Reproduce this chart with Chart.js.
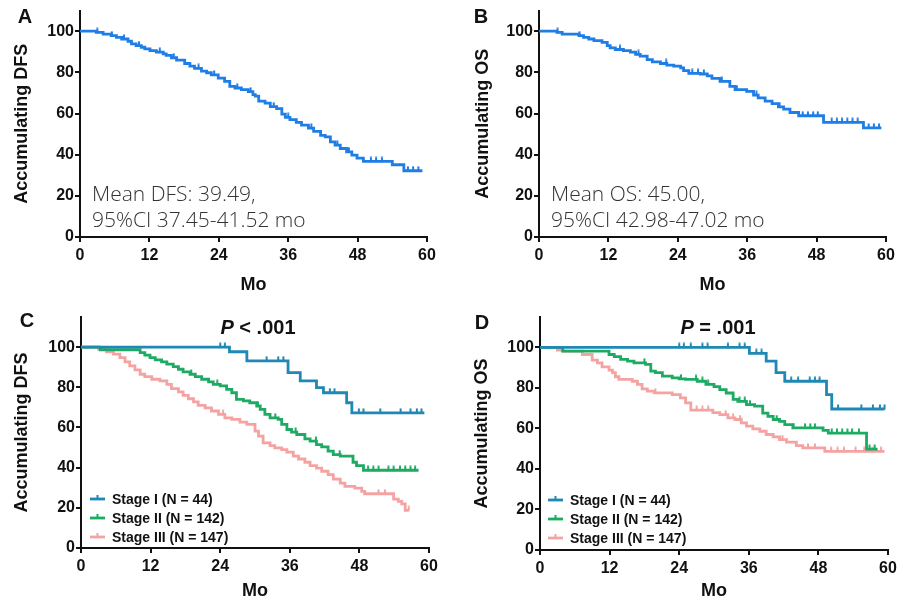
<!DOCTYPE html>
<html>
<head>
<meta charset="utf-8">
<script src="https://cdn.jsdelivr.net/npm/chart.js@4/dist/chart.umd.min.js"></script>
<style>
  body { margin: 0; background: #fff; }
  #wrap { position: relative; width: 909px; height: 606px; background: #fff; font-family: "Liberation Sans", Arial, sans-serif; }
  canvas { position: absolute; }
  .lbl { position: absolute; transform: translate(-50%, -50%); font-weight: bold; color: #111; white-space: nowrap; }
  .panel { font-size: 20px; }
  .pval { font-size: 20px; }
  .mean { position: absolute; font-family: "Open Sans", sans-serif; font-weight: 300; font-size: 21px; line-height: 26px; color: #333; white-space: nowrap; }
</style>
</head>
<body>
<div id="wrap">
  <canvas id="chartA" width="450" height="300" style="left:0;top:0"></canvas>
  <canvas id="chartB" width="454" height="300" style="left:455px;top:0"></canvas>
  <canvas id="chartC" width="450" height="306" style="left:0;top:300px"></canvas>
  <canvas id="chartD" width="454" height="306" style="left:455px;top:300px"></canvas>

  <div class="lbl panel" style="left:25px;top:16px">A</div>
  <div class="lbl panel" style="left:481px;top:16px">B</div>
  <div class="lbl panel" style="left:27px;top:320px">C</div>
  <div class="lbl panel" style="left:482px;top:322px">D</div>

  <div class="lbl pval" style="left:258px;top:327px"><i>P</i> &lt; .001</div>
  <div class="lbl pval" style="left:718px;top:327px"><i>P</i> = .001</div>

  <div class="mean" style="left:92px;top:180px">Mean DFS: 39.49,<br>95%CI 37.45-41.52 mo</div>
  <div class="mean" style="left:551px;top:180px">Mean OS: 45.00,<br>95%CI 42.98-47.02 mo</div>
</div>
<script>
// [month, survival %] step points
const dfsAll = [[0,100],[2.8,99.4],[4.0,98.6],[5.4,97.8],[6.3,97.0],[7.2,96.2],[8.3,95.1],[8.9,93.8],[9.7,93.0],[10.6,92.2],
  [11.2,91.4],[12.1,90.6],[13.2,89.8],[14.4,89.0],[14.9,88.2],[15.8,87.1],[16.7,85.9],[18.1,84.3],[19.0,83.0],[19.8,81.9],
  [21.0,80.6],[21.9,79.8],[22.7,78.8],[23.9,77.2],[25.0,75.6],[25.9,73.2],[26.8,72.4],[27.9,71.6],[29.1,70.6],[29.9,69.2],
  [30.3,68.4],[30.9,66.0],[32.0,65.0],[32.9,63.3],[34.0,62.4],[34.9,59.7],[35.5,58.1],[36.3,57.0],[37.4,55.7],[38.3,54.4],
  [39.5,52.9],[40.4,51.3],[41.6,49.4],[42.4,48.6],[43.3,46.2],[44.1,44.6],[45.0,43.0],[46.1,41.4],[47.0,39.8],[47.9,38.3],
  [49.0,36.7],[54.0,35.1],[56.0,32.2],[59.2,32.2]];
const dfsAllCens = [3.0,5.5,7.6,10.2,13.8,16.2,20.5,23.2,27.2,29.5,33.5,36.0,40.0,44.5,46.5,50.3,51.2,52.2,56.7,57.6,58.5];

const osAll = [[0,100],[3.1,99.4],[4.0,98.6],[6.9,97.8],[7.7,97.0],[8.6,96.2],[9.5,95.4],[10.9,94.6],[11.8,93.0],[12.3,91.9],
  [13.2,91.1],[14.6,90.6],[15.8,89.8],[16.7,88.7],[17.5,87.9],[18.7,86.2],[19.6,85.1],[21.0,84.3],[22.1,83.5],[23.3,83.0],
  [24.5,82.2],[25.0,80.8],[25.9,79.5],[27.9,79.2],[29.1,78.3],[29.9,77.1],[31.3,75.6],[33.0,73.2],[33.9,71.6],[35.9,70.8],
  [37.1,68.9],[37.9,67.6],[39.1,66.0],[40.3,64.8],[41.4,63.2],[42.3,62.1],[43.4,60.5],[44.9,58.9],[49.2,55.7],[56.1,53.0],
  [59.2,53.0]];
const osAllCens = [3.2,7.0,14.0,17.2,22.0,26.5,27.5,28.5,31.6,34.2,37.6,41.6,45.6,46.5,47.4,48.2,50.6,51.5,52.4,53.3,54.2,55.1,57.0,57.9,58.8];

const dfsStage1 = [[0,100],[25.6,97.7],[28.6,93.2],[35.7,87.3],[37.8,83.2],[40.6,79.8],[41.8,77.3],[45.8,72.3],[46.7,67.3],[59.2,67.3]];
const dfsStage1Cens = [24.0,24.8,32.0,34.0,34.9,42.9,43.7,47.9,48.7,51.6,55.1,56.8,57.9,58.7];
const dfsStage2 = [[0,100],[3.3,98.7],[10.2,97.3],[11.0,96.0],[11.9,94.8],[12.8,93.7],[13.9,92.7],[14.8,91.5],[15.9,90.3],[16.8,89.0],
  [17.6,87.7],[18.8,86.5],[19.7,85.3],[20.8,84.0],[22.0,82.7],[22.8,81.5],[24.0,80.7],[25.1,79.0],[26.0,77.3],[26.8,74.0],
  [28.0,73.2],[29.1,72.3],[30.3,70.7],[30.9,69.0],[31.7,66.5],[32.6,64.8],[34.0,64.0],[34.6,61.5],[35.5,59.0],[36.3,57.7],
  [37.2,56.5],[38.6,54.3],[39.5,53.2],[40.6,51.5],[41.5,50.3],[42.6,48.2],[43.5,46.5],[44.7,45.7],[46.9,42.7],[47.5,41.0],
  [48.7,38.7],[58.2,38.7]];
const dfsStage2Cens = [19.0,23.5,30.5,33.5,37.0,40.5,44.6,49.5,50.4,51.3,53.0,53.9,55.0,55.9,56.8,57.6];
const dfsStage3 = [[0,100],[3.0,99.0],[4.4,97.7],[5.6,96.5],[6.7,94.8],[7.6,92.7],[8.4,90.7],[9.3,88.7],[10.2,86.5],[11.0,85.3],
  [12.2,84.0],[13.6,83.2],[14.8,81.5],[15.6,79.3],[16.8,77.7],[17.6,76.0],[18.5,74.3],[19.4,72.7],[20.2,71.0],[21.4,69.8],
  [22.5,68.2],[23.7,66.5],[24.8,64.8],[26.0,64.0],[27.4,62.7],[28.6,61.5],[30.0,58.2],[30.6,55.7],[31.4,52.3],[32.6,51.0],
  [33.4,49.8],[34.6,49.0],[35.5,47.7],[36.6,45.7],[37.5,44.3],[38.6,42.7],[39.5,41.0],[40.6,39.8],[41.5,38.2],[42.6,36.5],
  [43.5,34.3],[44.7,32.3],[45.5,30.7],[47.2,29.8],[48.4,28.2],[48.9,27.0],[53.9,24.3],[54.7,23.2],[55.3,22.0],[55.9,18.7],
  [56.5,18.7]];
const dfsStage3Cens = [24.5,51.3,52.4,56.5];

const osStage1 = [[0,100],[36.1,97.0],[39.0,93.2],[40.7,87.5],[42.2,83.3],[49.4,76.7],[50.3,69.6],[59.4,69.6]];
const osStage1Cens = [24.0,24.8,26.0,28.0,28.9,32.4,34.4,35.3,37.3,38.2,43.3,44.5,46.5,47.4,48.2,51.4,55.4,57.4,58.6,59.4];
const osStage2 = [[0,100],[3.9,98.2],[11.9,96.5],[12.8,95.4],[13.9,94.1],[15.1,93.2],[16.2,92.4],[18.2,91.6],[19.1,88.3],[19.9,87.5],
  [21.1,85.8],[22.8,85.0],[24.0,84.5],[25.1,84.2],[27.1,83.3],[28.6,81.7],[30.0,80.6],[31.0,79.2],[32.1,77.5],[33.3,74.3],
  [34.1,73.4],[35.6,71.8],[37.0,71.0],[38.4,67.6],[39.3,66.0],[40.2,64.4],[41.3,63.5],[42.2,61.9],[43.6,60.3],[48.8,59.0],
  [49.7,57.7],[56.3,49.8],[58.2,49.8]];
const osStage2Cens = [18.0,24.3,26.9,28.0,29.0,34.4,35.3,36.2,40.8,43.7,45.7,46.6,47.4,50.3,51.2,52.1,53.0,53.8,55.0,56.8,57.7];
const osStage3 = [[0,100],[3.0,98.7],[4.0,98.2],[7.3,96.5],[9.0,93.7],[9.9,92.4],[10.7,90.4],[11.9,88.8],[12.5,87.5],[13.0,85.5],
  [13.6,84.2],[15.9,83.3],[16.8,81.7],[17.6,79.5],[18.5,78.4],[19.7,77.6],[22.8,76.7],[24.2,75.1],[25.1,72.6],[26.0,69.0],
  [29.8,67.8],[31.0,66.8],[32.4,65.2],[33.6,64.4],[34.7,62.7],[35.6,61.1],[36.7,59.8],[37.9,58.6],[39.0,57.0],[40.2,55.8],
  [41.3,54.5],[42.5,53.2],[44.2,51.5],[45.3,50.4],[49.1,48.7],[59.4,48.7]];
const osStage3Cens = [19.9,27.0,28.0,29.0,32.0,33.3,34.5,41.8,46.2,47.4,50.2,51.3,52.4,54.4,55.9,57.3,58.8];

const stageLabels = ["Stage I (N = 44)", "Stage II (N = 142)", "Stage III (N = 147)"];
const stageColors = ["#1f88b4", "#1daa62", "#f5a3a2"];
const allColor = "#1f7de6";

Chart.defaults.font.family = "'Liberation Sans', Arial, sans-serif";

function survAt(curve, t) {
    let s = curve[0][1];
    for (const p of curve) if (p[0] <= t) s = p[1];
    return s;
}

// small upward tick used as censor mark
function censorMark(color) {
    const c = document.createElement("canvas");
    c.width = 4; c.height = 10;
    const g = c.getContext("2d");
    g.strokeStyle = color; g.lineWidth = 2;
    g.beginPath(); g.moveTo(2, 0.5); g.lineTo(2, 5.5); g.stroke();
    return c;
}

function kmDatasets(curve, cens, color, label) {
    return [
        {
            label: label,
            data: curve.map(p => ({ x: p[0], y: p[1] })),
            stepped: true,
            borderColor: color,
            borderWidth: 2.8,
            pointRadius: 0,
            fill: false,
        },
        {
            data: cens.map(t => ({ x: t, y: survAt(curve, t) })),
            showLine: false,
            pointStyle: censorMark(color),
            pointRadius: 4,
            borderColor: color,
        },
    ];
}

// legend drawn inside the plot area, bottom-left
const kmLegend = {
    id: "kmLegend",
    afterDraw(chart, args, opts) {
        if (!opts.show) return;
        const ctx = chart.ctx;
        const x0 = chart.chartArea.left + opts.dx;
        ctx.save();
        ctx.font = "bold 14px 'Liberation Sans', Arial, sans-serif";
        ctx.textBaseline = "middle";
        stageLabels.forEach((lab, i) => {
            const y = opts.y + i * opts.rowH;
            ctx.strokeStyle = stageColors[i];
            ctx.lineWidth = 2.8;
            ctx.beginPath(); ctx.moveTo(x0, y); ctx.lineTo(x0 + 15, y); ctx.stroke();
            ctx.lineWidth = 2;
            ctx.beginPath(); ctx.moveTo(x0 + 7.5, y); ctx.lineTo(x0 + 7.5, y - 4); ctx.stroke();
            ctx.fillStyle = "#111";
            ctx.fillText(lab, x0 + opts.textDx, y + 1);
        });
        ctx.restore();
    },
};

function makeKM(id, datasets, o) {
    new Chart(document.getElementById(id), {
        type: "line",
        data: { datasets: datasets },
        options: {
            responsive: false,
            animation: false,
            devicePixelRatio: 1,
            layout: { padding: { left: 0, top: o.padTop, right: o.padRight, bottom: 0 } },
            plugins: {
                legend: { display: false },
                tooltip: { enabled: false },
                kmLegend: o.legend || { show: false },
            },
            scales: {
                x: {
                    type: "linear",
                    min: 0, max: 60,
                    ticks: { stepSize: 12, color: "#111", padding: 4, font: { size: 16, weight: "bold" } },
                    grid: { drawOnChartArea: false, tickLength: 5, color: "#111", lineWidth: 2 },
                    border: { color: "#111", width: 2 },
                    title: { display: true, text: "Mo", color: "#111", font: { size: 18, weight: "bold" }, padding: { top: o.xTitlePad } },
                    afterFit(s) { s.height = o.xHeight; },
                },
                y: {
                    min: 0, max: o.yMax,
                    ticks: { stepSize: 20, includeBounds: false, color: "#111", padding: 1, font: { size: 16, weight: "bold" } },
                    grid: { drawOnChartArea: false, tickLength: 5, color: "#111", lineWidth: 2 },
                    border: { color: "#111", width: 2 },
                    title: { display: true, text: o.yTitle, color: "#111", font: { size: 18, weight: "bold" }, padding: { top: o.yTitlePad } },
                    afterFit(s) { s.width = o.yWidth; },
                },
            },
        },
        plugins: [kmLegend],
    });
}

makeKM("chartA", kmDatasets(dfsAll, dfsAllCens, allColor, "All"),
    { padTop: 5, padRight: 23, xHeight: 63, yWidth: 80, yMax: 110, yTitle: "Accumulating DFS", xTitlePad: 6, yTitlePad: 11 });
makeKM("chartB", kmDatasets(osAll, osAllCens, allColor, "All"),
    { padTop: 5, padRight: 23, xHeight: 63, yWidth: 84, yMax: 110, yTitle: "Accumulating OS", xTitlePad: 6, yTitlePad: 17 });
makeKM("chartC", [
    ...kmDatasets(dfsStage1, dfsStage1Cens, stageColors[0], stageLabels[0]),
    ...kmDatasets(dfsStage2, dfsStage2Cens, stageColors[1], stageLabels[1]),
    ...kmDatasets(dfsStage3, dfsStage3Cens, stageColors[2], stageLabels[2]),
], { padTop: 17, padRight: 21, xHeight: 58, yWidth: 81, yMax: 115, yTitle: "Accumulating DFS", xTitlePad: 2, yTitlePad: 11,
     legend: { show: true, dx: 9, y: 199, rowH: 19, textDx: 22 } });
makeKM("chartD", [
    ...kmDatasets(osStage1, osStage1Cens, stageColors[0], stageLabels[0]),
    ...kmDatasets(osStage2, osStage2Cens, stageColors[1], stageLabels[1]),
    ...kmDatasets(osStage3, osStage3Cens, stageColors[2], stageLabels[2]),
], { padTop: 17, padRight: 21, xHeight: 56, yWidth: 85, yMax: 115, yTitle: "Accumulating OS", xTitlePad: 0, yTitlePad: 16,
     legend: { show: true, dx: 8, y: 200, rowH: 19, textDx: 22 } });
</script>
</body>
</html>
